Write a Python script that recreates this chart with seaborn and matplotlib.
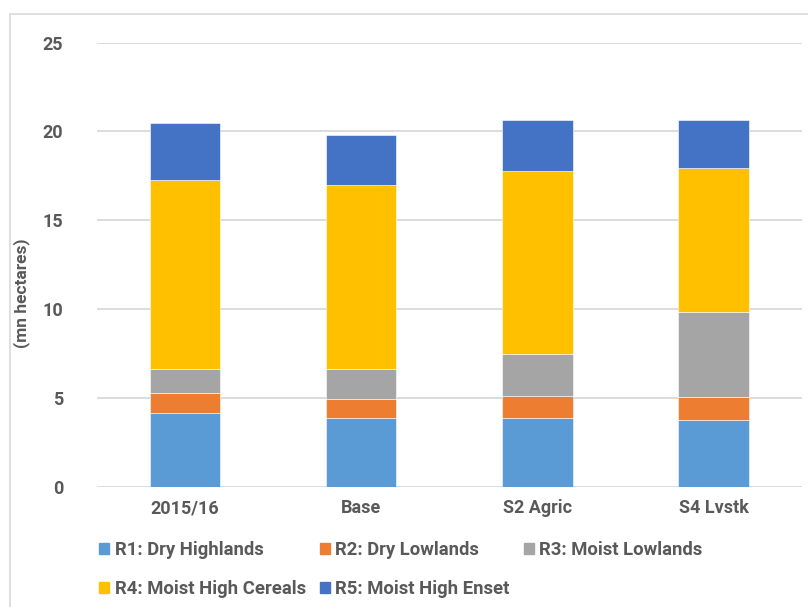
import matplotlib
matplotlib.use("Agg")
import matplotlib.pyplot as plt
import matplotlib.patches as mpatches
import numpy as np
import pandas as pd
import seaborn as sns

# Land area by region under each scenario (mn hectares)
scenarios = ["2015/16", "Base", "S2 Agric", "S4 Lvstk"]
regions = ["R1: Dry Highlands", "R2: Dry Lowlands", "R3: Moist Lowlands",
           "R4: Moist High Cereals", "R5: Moist High Enset"]
r1_dry_highlands = [4.17, 3.86, 3.86, 3.74]
r2_dry_lowlands = [1.11, 1.10, 1.24, 1.30]
r3_moist_lowlands = [1.32, 1.64, 2.35, 4.80]
r4_moist_high_cereals = [10.68, 10.36, 10.34, 8.08]
r5_moist_high_enset = [3.22, 2.86, 2.83, 2.70]
y_ticks = [0, 5, 10, 15, 20, 25]

colors = ["#5B9BD5", "#ED7D31", "#A5A5A5", "#FFC000", "#4472C4"]
text_color = "#595959"
grid_color = "#D9D9D9"

sns.set_theme(style="white")
plt.rcParams["font.family"] = ["Roboto", "DejaVu Sans"]

series = [r1_dry_highlands, r2_dry_lowlands, r3_moist_lowlands,
          r4_moist_high_cereals, r5_moist_high_enset]
df = pd.DataFrame({"scenario": scenarios})
for name, vals in zip(regions, series):
    df[name] = vals

fig = plt.figure(figsize=(8.08, 6.07), dpi=100)
W, H = 808, 607
ax = fig.add_axes([96.7 / W, 1 - 486.7 / H, (801.7 - 96.7) / W, (486.7 - 42.7) / H])

# chart-area frame
fig.patches.append(mpatches.Rectangle((10 / W, -0.1), 1.2, 1 - 14 / H + 0.1,
                                      transform=fig.transFigure, fill=False,
                                      edgecolor=grid_color, linewidth=1.2))

bottom = np.zeros(len(scenarios))
for name, col in zip(regions, colors):
    sns.barplot(data=df, x="scenario", y=name, color=col, width=0.4,
                bottom=bottom, ax=ax, label=name, saturation=1,
                edgecolor="white", linewidth=0.4)
    bottom = bottom + df[name].to_numpy()

ax.set_xlim(-0.5, 3.5)
ax.set_ylim(0, 25)
ax.set_yticks(y_ticks)
ax.set_yticklabels([str(t) for t in y_ticks])
ax.yaxis.grid(True, color=grid_color, linewidth=1.3)
ax.set_axisbelow(True)
for s in ax.spines.values():
    s.set_visible(False)
ax.tick_params(axis="both", length=0, colors=text_color, labelsize=13)
ax.tick_params(axis="y", pad=24)
ax.tick_params(axis="x", pad=9)
for lab in ax.get_xticklabels() + ax.get_yticklabels():
    lab.set_fontweight("bold")
ax.set_xlabel("")
ax.set_ylabel("(mn hectares)", color=text_color, fontsize=12.5, fontweight="bold")
ax.yaxis.set_label_coords(-0.094, 0.436)

if ax.get_legend() is not None:
    ax.get_legend().remove()
handles = [mpatches.Patch(color=c, label=r) for r, c in zip(regions, colors)]
order = [0, 3, 1, 4, 2]
leg = fig.legend([handles[i] for i in order], [regions[i] for i in order],
                 ncol=3, loc="upper left", bbox_to_anchor=(99 / W, 1 - 541 / H),
                 frameon=False, fontsize=13.3, handlelength=0.55, handleheight=0.55,
                 handletextpad=0.3, columnspacing=0.75, labelspacing=1.15,
                 borderaxespad=0, borderpad=0)
for t in leg.get_texts():
    t.set_color(text_color)
    t.set_fontweight("bold")

fig.savefig("out.png", dpi=100)
